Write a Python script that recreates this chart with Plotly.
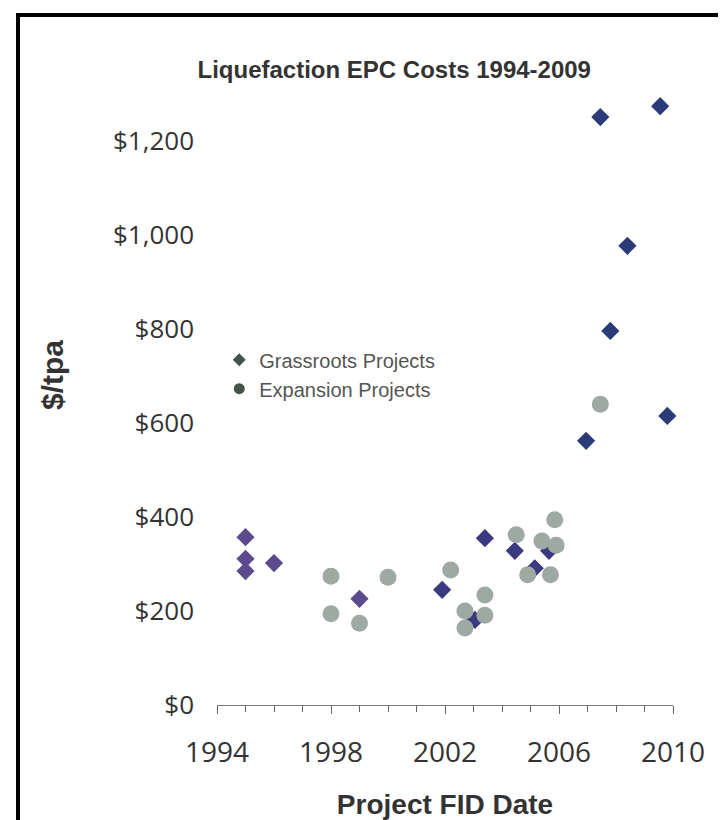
import plotly.graph_objects as go

# Grassroots projects (diamonds): FID year, $/tpa
grassroots_year = [1995.0, 1995.0, 1995.0, 1996.0, 1999.0, 2001.9, 2003.4, 2003.05,
                   2004.45, 2005.15, 2005.65, 2006.95, 2007.45, 2007.8, 2008.4,
                   2009.55, 2009.8]
grassroots_cost = [357, 311, 285, 302, 226, 245, 355, 181,
                   328, 291, 328, 562, 1251, 796, 977,
                   1274, 615]

# Expansion projects (circles)
expansion_year = [1998.0, 1998.0, 1999.0, 2000.0, 2002.2, 2003.4, 2002.7, 2003.4,
                  2002.7, 2004.5, 2005.4, 2005.9, 2005.85, 2004.9, 2005.7, 2007.45]
expansion_cost = [274, 194, 174, 272, 287, 234, 200, 191,
                  164, 362, 349, 340, 394, 277, 277, 640]

y_ticks = [0, 200, 400, 600, 800, 1000, 1200]
y_tick_labels = ["$0", "$200", "$400", "$600", "$800", "$1,000", "$1,200"]
x_ticks = [1994, 1998, 2002, 2006, 2010]


def diamond_colour(year):
    # the scan shows older points more purple, recent ones navy
    if year < 2000:
        return "#5b4b8d"
    if year < 2006.5:
        return "#3b3a80"
    return "#2a3b78"


fig = go.Figure()

fig.add_trace(go.Scatter(
    x=grassroots_year, y=grassroots_cost, mode="markers",
    marker=dict(symbol="diamond", size=14,
                color=[diamond_colour(v) for v in grassroots_year],
                line=dict(width=0)),
    showlegend=False, cliponaxis=False, hoverinfo="x+y",
))
fig.add_trace(go.Scatter(
    x=expansion_year, y=expansion_cost, mode="markers",
    marker=dict(symbol="circle", size=17, color="#9fa9a4", line=dict(width=0)),
    showlegend=False, cliponaxis=False, hoverinfo="x+y",
))

# legend-only entries (the legend in the source uses its own dark grey symbols)
fig.add_trace(go.Scatter(
    x=[None], y=[None], mode="markers", name="Grassroots Projects",
    marker=dict(symbol="diamond", size=10, color="#44544b"),
))
fig.add_trace(go.Scatter(
    x=[None], y=[None], mode="markers", name="Expansion Projects",
    marker=dict(symbol="circle", size=11, color="#44544b"),
))

fig.update_layout(
    width=726, height=820,
    margin=dict(l=209, r=61, t=86, b=123),
    paper_bgcolor="white", plot_bgcolor="white",
    font=dict(family="Open Sans", color="#333333"),
    title=dict(text="<b>Liquefaction EPC Costs 1994-2009</b>",
               font=dict(family="Liberation Sans", size=24, color="#333333"),
               x=0.532, xref="container", xanchor="center",
               y=1 - 62 / 820, yref="container", yanchor="middle"),
    legend=dict(x=0.005, y=0.597, xanchor="left", yanchor="top",
                bgcolor="rgba(0,0,0,0)",
                font=dict(family="Liberation Sans", size=20, color="#555555"),
                tracegroupgap=0),
    showlegend=True,
)

fig.update_xaxes(
    range=[1994, 2010],
    tickvals=x_ticks, ticks="outside", ticklen=8, tickcolor="#666666",
    showline=True, linecolor="#777777", linewidth=1,
    showgrid=False, zeroline=False,
    tickfont=dict(family="Open Sans", size=28, color="#333333"),
    ticklabelstandoff=14,
    minor=dict(dtick=1, tick0=1994, ticks="outside", ticklen=6, tickcolor="#666666",
               showgrid=False),
    title=dict(text="<b>Project FID Date</b>",
               font=dict(family="Liberation Sans", size=28, color="#333333"),
               standoff=25),
)

fig.update_yaxes(
    range=[0, 1300],
    tickvals=y_ticks, ticktext=y_tick_labels,
    showline=False, showgrid=False, zeroline=False, ticks="",
    tickfont=dict(family="Open Sans", size=26, color="#333333"),
    ticklabelstandoff=22,
)

# rotated y title placed by hand, like the source
fig.add_annotation(
    text="<b>$/tpa</b>", textangle=-90,
    xref="paper", yref="paper", x=(45 - 209) / 456, y=(697 - 367) / 611,
    xanchor="center", yanchor="middle", showarrow=False,
    font=dict(family="Liberation Sans", size=30, color="#333333"),
)

# black frame of the scanned figure (bottom edge is cut off)
fig.add_shape(
    type="rect", xref="paper", yref="paper",
    x0=(10 - 209) / 456, x1=(717 - 209) / 456,
    y0=(697 - 840) / 611, y1=(697 - 7) / 611,
    line=dict(color="black", width=4), layer="above",
)

fig.write_html("out.html")
